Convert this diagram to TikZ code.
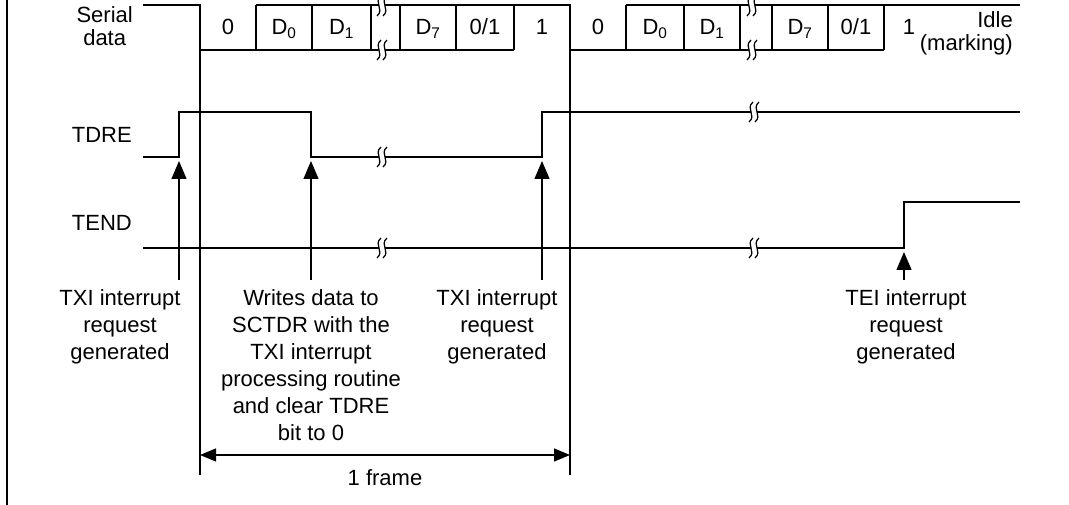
\documentclass[tikz,border=0pt]{standalone}
\usepackage{fontspec}
\setmainfont{Liberation Sans}
\usetikzlibrary{arrows.meta}
\newcommand\breakmark[2]{%
  \fill[white] (#1+2,#2-10) .. controls (#1-6,#2-3) and (#1+6,#2+3) .. (#1-2,#2+10)
     -- (#1+4,#2+10) .. controls (#1+12,#2+3) and (#1,#2-3) .. (#1+8,#2-10) -- cycle;
  \draw[wave] (#1+2,#2-10) .. controls (#1-6,#2-3) and (#1+6,#2+3) .. (#1-2,#2+10);
  \draw[wave] (#1+8,#2-10) .. controls (#1,#2-3) and (#1+12,#2+3) .. (#1+4,#2+10);
}
\begin{document}
\begin{tikzpicture}[x=1pt,y=-1pt,
  wave/.style={line width=1.25pt, line join=miter},
  guide/.style={line width=1.25pt},
  uparrow/.style={line width=1.25pt, -{Triangle[width=15pt,length=18pt]}},
  framearrow/.style={line width=1.25pt, {Triangle[width=13pt,length=16pt]}-{Triangle[width=13pt,length=16pt]}},
  txt/.style={font=\fontsize{22}{27}\selectfont, inner sep=0pt, align=center},
  cell/.style={font=\fontsize{22}{27}\selectfont, inner sep=0pt, anchor=base}]
\useasboundingbox (0,0) rectangle (1069,505);
% left border
\draw[line width=2.6pt] (7,0) -- (7,505);

% ---------- Serial data ----------
\node[txt, anchor=north east, font=\fontsize{22}{23}\selectfont] (serial) at (133,6) {Serial\\data};
\draw[wave] (143,5) -- (200,5) -- (200,50) -- (514,50);
\draw[wave] (256,5) -- (570,5) -- (570,50) -- (884,50);
\draw[wave] (626,5) -- (1020,5);
\foreach \x in {256,312,371,400,456,514,626,684,740,772,828,884}
  \draw[wave] (\x,5) -- (\x,50);
\breakmark{379}{6}
\breakmark{379}{50}
\breakmark{749}{6}
\breakmark{749}{50}
\node[cell] (c0) at (228,35) {0};
\node[cell] (c1) at (284,35) {D\textsubscript{0}};
\node[cell] (c2) at (341.5,35) {D\textsubscript{1}};
\node[cell] (c3) at (428,35) {D\textsubscript{7}};
\node[cell] (c4) at (485,35) {0/1};
\node[cell] (c5) at (542,35) {1};
\node[cell] (c6) at (598,35) {0};
\node[cell] (c7) at (655,35) {D\textsubscript{0}};
\node[cell] (c8) at (712,35) {D\textsubscript{1}};
\node[cell] (c9) at (800,35) {D\textsubscript{7}};
\node[cell] (c10) at (856,35) {0/1};
\node[cell] (c11) at (909,35) {1};
\node[txt, anchor=base east] (idle) at (1013,28) {Idle};
\node[txt, anchor=base east] (marking) at (1013,51) {(marking)};

% ---------- frame guides ----------
\coordinate (g1t) at (200,50);
\coordinate (g1b) at (200,475);
\coordinate (g2t) at (570,50);
\coordinate (g2b) at (570,475);
\draw[guide] (g1t) -- (g1b);
\draw[guide] (g2t) -- (g2b);

% ---------- TDRE ----------
\node[txt, anchor=base east] (tdre) at (132,143) {TDRE};
\draw[wave] (143,157) -- (179,157) -- (179,112) -- (311,112) -- (311,157) -- (542,157) -- (542,112) -- (1020,112);
\breakmark{379}{157}
\breakmark{751}{112}

% ---------- TEND ----------
\node[txt, anchor=base east] (tend) at (132,231) {TEND};
\draw[wave] (143,248) -- (904,248) -- (904,202) -- (1020,202);
\breakmark{379}{248}
\breakmark{751}{248}

% ---------- arrows ----------
\coordinate (a1b) at (179,280); \coordinate (a1t) at (179,161);
\coordinate (a2b) at (311,280); \coordinate (a2t) at (311,161);
\coordinate (a3b) at (542,280); \coordinate (a3t) at (542,161);
\coordinate (a4b) at (904,280); \coordinate (a4t) at (904,252);
\draw[uparrow] (a1b) -- (a1t);
\draw[uparrow] (a2b) -- (a2t);
\draw[uparrow] (a3b) -- (a3t);
\draw[uparrow] (a4b) -- (a4t);

% ---------- labels ----------
\node[txt, anchor=north] (l1) at (120,289) {TXI interrupt\\request\\generated};
\node[txt, anchor=north] (l2) at (311,289) {Writes data to\\SCTDR with the\\TXI interrupt\\processing routine\\and clear TDRE\\bit to 0};
\node[txt, anchor=north] (l3) at (497,289) {TXI interrupt\\request\\generated};
\node[txt, anchor=north] (l4) at (906,289) {TEI interrupt\\request\\generated};

% ---------- frame ----------
\coordinate (f1) at (200,455);
\coordinate (f2) at (570,455);
\draw[framearrow] (f1) -- (f2);
\node[cell] (frame) at (385,485) {1 frame};
\end{tikzpicture}
\end{document}
